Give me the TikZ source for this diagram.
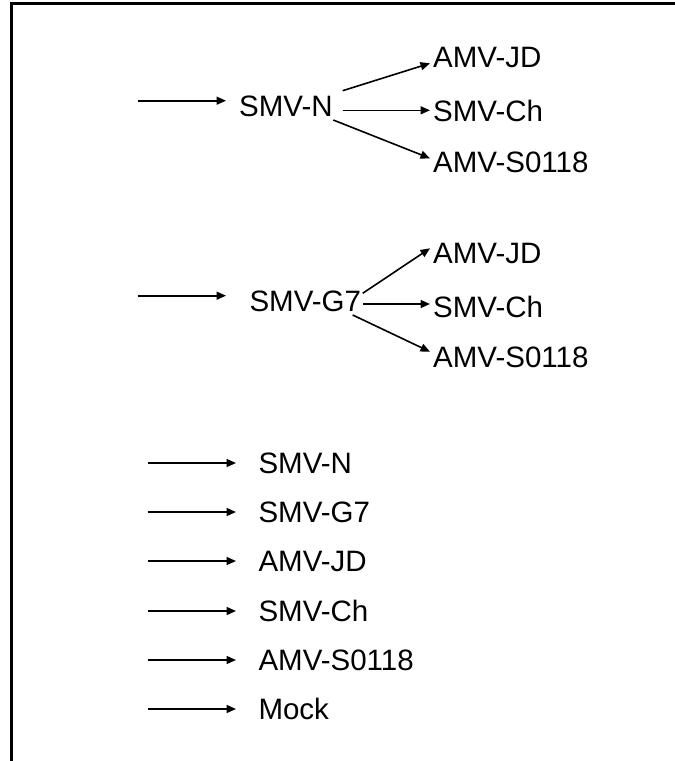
\documentclass[tikz,border=0pt]{standalone}
\usepackage{fontspec}
\setmainfont{Liberation Sans}
\usetikzlibrary{arrows.meta,calc}
\begin{document}
\begin{tikzpicture}[x=1pt,y=1pt,
  lbl/.style={anchor=west,inner sep=0pt,font=\fontsize{29.5}{29.5}\selectfont,text height=21pt,text depth=0pt},
  arr/.style={line width=1.6pt,-{Triangle[length=9.5pt,width=8pt]}},
  frame/.style={line width=3pt}]
\useasboundingbox (0,0) rectangle (675,-761);
% frame
\coordinate (fbl) at (11,-761);
\coordinate (ftl) at (11,-3);
\coordinate (ftr) at (675,-3);
\draw[frame] (fbl) -- (ftl) -- (ftr);
% group 1
\node[lbl] (n1) at (239,-105.5) {SMV-N};
\node[lbl] (a1) at (433,-57) {AMV-JD};
\node[lbl] (c1) at (433,-110.8) {SMV-Ch};
\node[lbl] (s1) at (433,-161.7) {AMV-S0118};
\coordinate (i1s) at (137.7,-100.7);
\coordinate (i1e) at (226,-100.7);
\draw[arr] (i1s) -- (i1e);
\coordinate (n1a) at (342.7,-90.7);
\coordinate (n1c) at (342.7,-110.3);
\coordinate (n1s) at (333.3,-120);
\coordinate (a1e) at (430,-63.3);
\coordinate (c1e) at (430,-110.3);
\coordinate (s1e) at (430,-158.3);
\draw[arr] (n1a) -- (a1e);
\draw[arr] (n1c) -- (c1e);
\draw[arr] (n1s) -- (s1e);
% group 2
\node[lbl] (n2) at (249.3,-301) {SMV-G7};
\node[lbl] (a2) at (433,-252.8) {AMV-JD};
\node[lbl] (c2) at (433,-306.7) {SMV-Ch};
\node[lbl] (s2) at (433,-356.7) {AMV-S0118};
\coordinate (i2s) at (137.7,-295.7);
\coordinate (i2e) at (226,-295.7);
\draw[arr] (i2s) -- (i2e);
\coordinate (n2a) at (362.7,-293.3);
\coordinate (n2c) at (363.3,-304);
\coordinate (n2s) at (352.7,-315);
\coordinate (a2e) at (430,-248.3);
\coordinate (c2e) at (430,-304);
\coordinate (s2e) at (430,-351.7);
\draw[arr] (n2a) -- (a2e);
\draw[arr] (n2c) -- (c2e);
\draw[arr] (n2s) -- (s2e);
% group 3
\foreach \y/\t/\nm in {-463/SMV-N/l1,-512/SMV-G7/l2,-561/AMV-JD/l3,-611/SMV-Ch/l4,-660/AMV-S0118/l5,-709/Mock/l6}{
  \node[lbl] (\nm) at (258.3,\y) {\t};
  \coordinate (\nm s) at (147.7,\y);
  \coordinate (\nm e) at (236,\y);
  \draw[arr] (\nm s) -- (\nm e);
}
\end{tikzpicture}
\end{document}
